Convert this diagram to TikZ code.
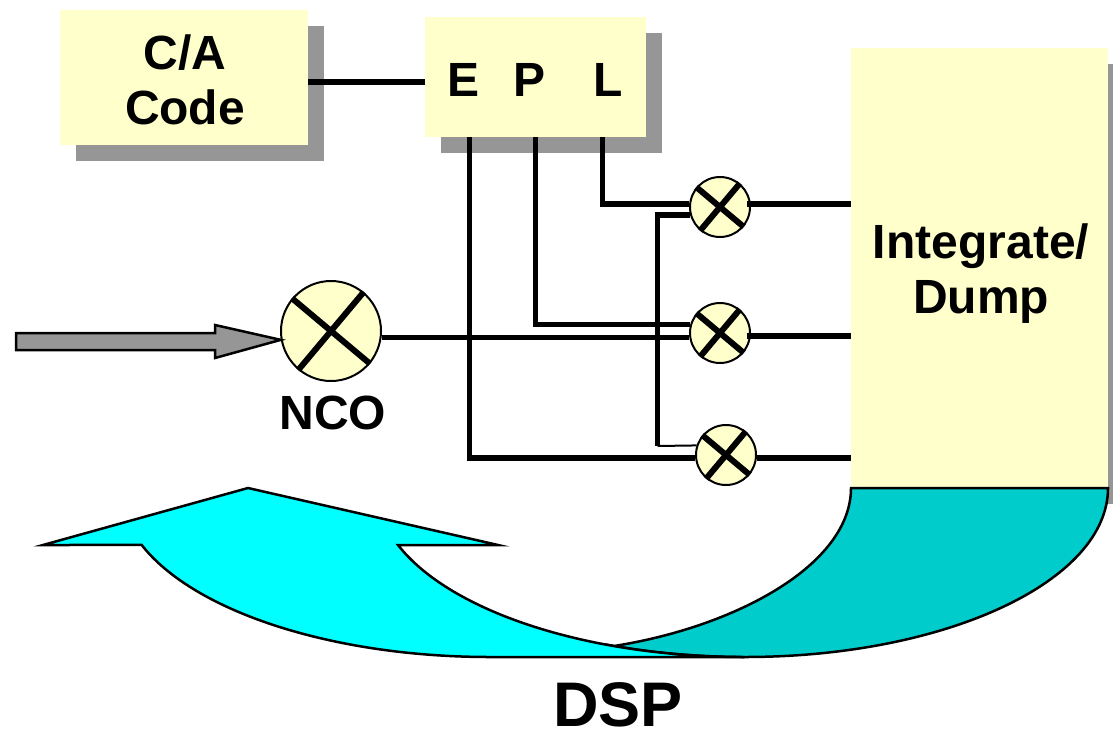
\documentclass[tikz,border=0pt]{standalone}
\usepackage{fontspec}
\setmainfont{Liberation Sans}
\usetikzlibrary{shadows}
\definecolor{boxyellow}{HTML}{FFFFCC}
\definecolor{shadowgray}{HTML}{969696}
\definecolor{dspcyan}{HTML}{00FFFF}
\definecolor{dspteal}{HTML}{00CCCC}
\tikzset{
    bigtext/.style={font=\fontsize{48}{55}\selectfont\bfseries, align=center},
    blockbox/.style={fill=boxyellow, inner sep=0pt, bigtext,
        general shadow={shadow xshift=16pt, shadow yshift=-16pt, fill=shadowgray}},
    mixer/.style={circle, draw=black, line width=2pt, fill=boxyellow, inner sep=0pt, minimum size=#1},
    wire/.style={black, line width=5.5pt},
    thinwire/.style={black, line width=2pt},
    crossline/.style={black, line width=6pt},
    outline/.style={draw=black, line width=2.5pt, line join=miter}
}
\begin{document}
\begin{tikzpicture}[x=1pt, y=-1pt]
    \useasboundingbox (0,0) rectangle (1113,731);
    \node[blockbox, minimum width=248pt, minimum height=135pt] (code) at (184,77.5) {};
    \node[blockbox, minimum width=221pt, minimum height=120pt] (epl) at (535.5,77) {};
    \node[blockbox, minimum width=257pt, minimum height=440pt] (dump) at (979.5,268) {};
    \node[bigtext] (codelabel) at (185,79.5) {C/A\\Code};
    \node[bigtext] (early) at (464,79.5) {E};
    \node[bigtext] (prompt) at (530,79.5) {P};
    \node[bigtext] (late) at (608,79.5) {L};
    \node[bigtext] (dumplabel) at (981,274) {Integrate/\\Dump};
    \coordinate (eTap) at (469.5,137);
    \coordinate (pTap) at (535.5,137);
    \coordinate (lTap) at (602.5,137);
    \coordinate (busEnd) at (657.5,446);
    \node[mixer=60pt] (mixL) at (720,207) {};
    \node[mixer=60pt] (mixP) at (720,333) {};
    \node[mixer=60pt] (mixE) at (726,455) {};
    \node[mixer=100pt] (nco) at (331,331) {};
    \node[bigtext] (ncolabel) at (333,413) {NCO};
    \draw[wire] (code.east |- 0,82) -- (epl.west |- 0,82);
    \draw[wire] (eTap) |- (mixE.186);
    \draw[wire] (pTap) |- (mixP.164);
    \draw[wire] (lTap) |- (mixL.174);
    \draw[wire] (nco.east |- mixP.188) -- (mixP.188);
    \draw[wire] (mixL.195) -| (busEnd);
    \draw[thinwire] (busEnd) -- (mixE.162);
    \draw[wire, shorten <=-4pt] (mixL.6) -- (mixL.6 -| dump.west);
    \draw[wire, shorten <=-4pt] (mixP.-6) -- (mixP.-6 -| dump.west);
    \draw[wire] (mixE.-6) -- (mixE.-6 -| dump.west);
    \foreach \mix in {nco, mixL, mixP, mixE} {
        \draw[crossline] (\mix.140) -- (\mix.-40);
        \draw[crossline] (\mix.50) -- (\mix.230);
    }
    \draw[fill=shadowgray, outline] (16,333) -- (215,333) -- (215,325) -- (nco.190) -- (215,358) -- (215,350) -- (16,350) -- cycle;
    \fill[dspteal, outline] (614,646) .. controls (735,627) and (851,565) .. (851,488)
        -- (1108,488) arc[start angle=0, end angle=90, x radius=363, y radius=169]
        arc[start angle=90, end angle=110.9, x radius=368, y radius=169] -- cycle;
    \fill[dspcyan, outline] (248,488) -- (498,545) -- (398,545)
        arc[start angle=160.3, end angle=90, x radius=368, y radius=169] -- (490,657)
        arc[start angle=90, end angle=160.3, x radius=370, y radius=169] -- (43,545) -- cycle;
    \node[font=\fontsize{63}{63}\selectfont\bfseries] (dsp) at (618,705) {DSP};
\end{tikzpicture}
\end{document}
